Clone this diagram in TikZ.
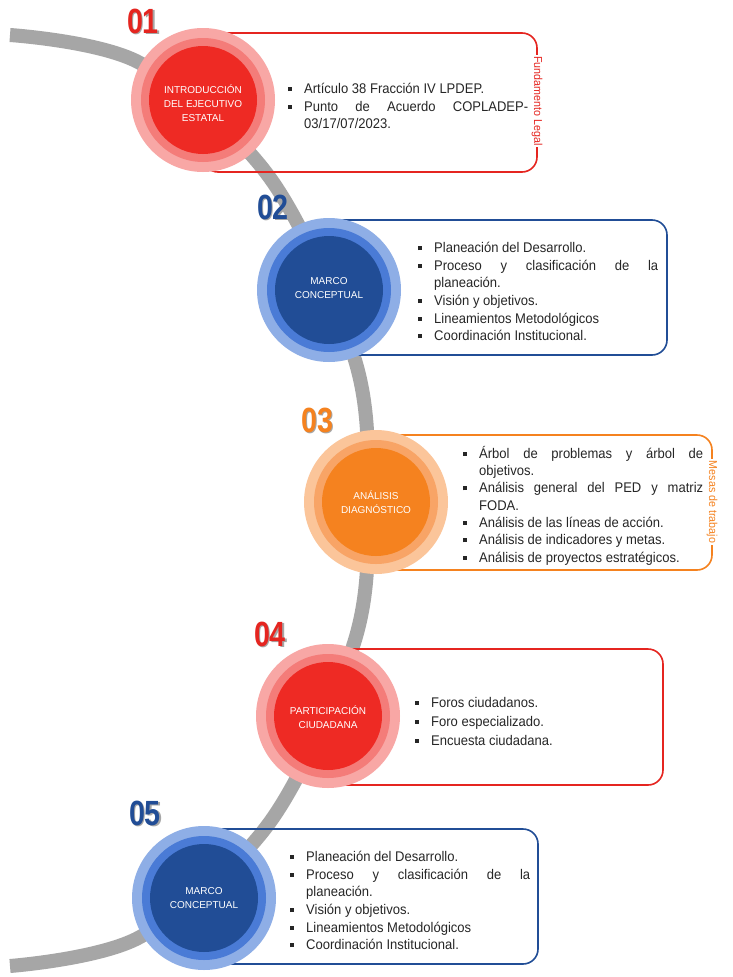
\documentclass[tikz,border=0pt]{standalone}
\usepackage{fontspec}
\setmainfont{Liberation Sans}
\newfontfamily\bodyfont[FakeStretch=0.93]{Liberation Sans}
\newfontfamily\numfont[FakeStretch=0.82]{Liberation Sans}
\definecolor{redA}{HTML}{EE2A24}
\definecolor{redB}{HTML}{F47C79}
\definecolor{redC}{HTML}{F8A7A5}
\definecolor{redT}{HTML}{E52520}
\definecolor{blueA}{HTML}{214D96}
\definecolor{blueB}{HTML}{4A7BD6}
\definecolor{blueC}{HTML}{8EAEE6}
\definecolor{blueT}{HTML}{214D96}
\definecolor{orA}{HTML}{F5821F}
\definecolor{orB}{HTML}{F8A466}
\definecolor{orC}{HTML}{FBC59A}
\definecolor{orT}{HTML}{F5821F}
\definecolor{arcgrey}{HTML}{A6A6A6}
\definecolor{txt}{HTML}{262626}
\newcommand\bul{\par\noindent\hangindent=16pt\hangafter=1\makebox[16pt][l]{\rule[2.5pt]{4pt}{4pt}}\ignorespaces}
\tikzset{
  listbox/.style={anchor=west, text width=240pt, align=justify, inner sep=0pt, text=txt,
    font=\bodyfont\fontsize{14}{17.6}\selectfont},
  ctext/.style={text=white, align=center, inner sep=0pt, font=\fontsize{10}{13.8}\selectfont},
  numtxt/.style={inner sep=0pt, font=\numfont\bfseries\fontsize{35}{35}\selectfont},
  numshadow/.style={numtxt, text=black!35},
  frame/.style={line width=1.6pt, rounded corners=15pt},
  vlabel/.style={rotate=-90, fill=white, inner sep=1.5pt, font=\bodyfont\fontsize{11.5}{12}\selectfont}
}
\begin{document}
\begin{tikzpicture}[x=1pt,y=-1pt]
\useasboundingbox (0,0) rectangle (733,977);
\fill[white] (0,0) rectangle (733,977);
% grey arc
\draw[arcgrey, line width=14pt] plot[smooth, tension=0.55] coordinates
 {(10,35) (140,63) (270,178) (355,360) (368,500) (355,640) (270,822) (140,937) (10,966)};
% frames
\draw[frame, redT] (203,33) rectangle (537,172);
\draw[frame, blueT] (329,220) rectangle (667,355);
\draw[frame, orT] (376,435) rectangle (712,570);
\draw[frame, redT] (328,649) rectangle (663,785);
\draw[frame, blueT] (204,829) rectangle (538,964);
% vertical labels
\node[vlabel, text=redT] (v1) at (537,101) {Fundamento Legal};
\node[vlabel, text=orT] (v3) at (712,502) {Mesas de trabajo};
% circles
\coordinate (p1) at (203,100);
\coordinate (p2) at (329,290);
\coordinate (p3) at (376,502);
\coordinate (p4) at (328,716);
\coordinate (p5) at (204,898);
\foreach \p/\ca/\cb/\cc in {p1/redA/redB/redC, p2/blueA/blueB/blueC, p3/orA/orB/orC, p4/redA/redB/redC, p5/blueA/blueB/blueC}{
  \fill[\cc] (\p) circle (72pt);
  \fill[\cb] (\p) circle (62pt);
  \fill[\ca] (\p) circle (54pt);
}
\node[ctext] (c1) at (203,103) {INTRODUCCIÓN\\DEL EJECUTIVO\\ESTATAL};
\node[ctext] (c2) at (329,288) {MARCO\\CONCEPTUAL};
\node[ctext] (c3) at (376,502) {ANÁLISIS\\DIAGNÓSTICO};
\node[ctext] (c4) at (328,717) {PARTICIPACIÓN\\CIUDADANA};
\node[ctext] (c5) at (204,898) {MARCO\\CONCEPTUAL};
% numbers
\node[numshadow] at (144.8,22.8) {01};
\node[numtxt, text=redT] (n1) at (143,21) {01};
\node[numshadow] at (274.8,208.8) {02};
\node[numtxt, text=blueT] (n2) at (273,207) {02};
\node[numshadow] at (318.8,421.8) {03};
\node[numtxt, text=orT] (n3) at (317,420) {03};
\node[numshadow] at (271.8,635.8) {04};
\node[numtxt, text=redT] (n4) at (270,634) {04};
\node[numshadow] at (146.8,814.8) {05};
\node[numtxt, text=blueT] (n5) at (145,813) {05};
% lists
\node[listbox] (t1) at (288,102.5) {\bul Artículo 38 Fracción IV LPDEP.\bul Punto de Acuerdo COPLADEP-\linebreak 03/17/07/2023.\par};
\node[listbox] (t2) at (418,288) {\bul Planeación del Desarrollo.\bul Proceso y clasificación de la\linebreak planeación.\bul Visión y objetivos.\bul Lineamientos Metodológicos\bul Coordinación Institucional.\par};
\node[listbox, font=\bodyfont\fontsize{14}{17.3}\selectfont] (t3) at (463,503) {\bul Árbol de problemas y árbol de\linebreak objetivos.\bul Análisis general del PED y matriz\linebreak FODA.\bul Análisis de las líneas de acción.\bul Análisis de indicadores y metas.\bul Análisis de proyectos estratégicos.\par};
\node[listbox, font=\bodyfont\fontsize{14}{19}\selectfont] (t4) at (415,717) {\bul Foros ciudadanos.\bul Foro especializado.\bul Encuesta ciudadana.\par};
\node[listbox] (t5) at (290,897) {\bul Planeación del Desarrollo.\bul Proceso y clasificación de la\linebreak planeación.\bul Visión y objetivos.\bul Lineamientos Metodológicos\bul Coordinación Institucional.\par};
\end{tikzpicture}
\end{document}
